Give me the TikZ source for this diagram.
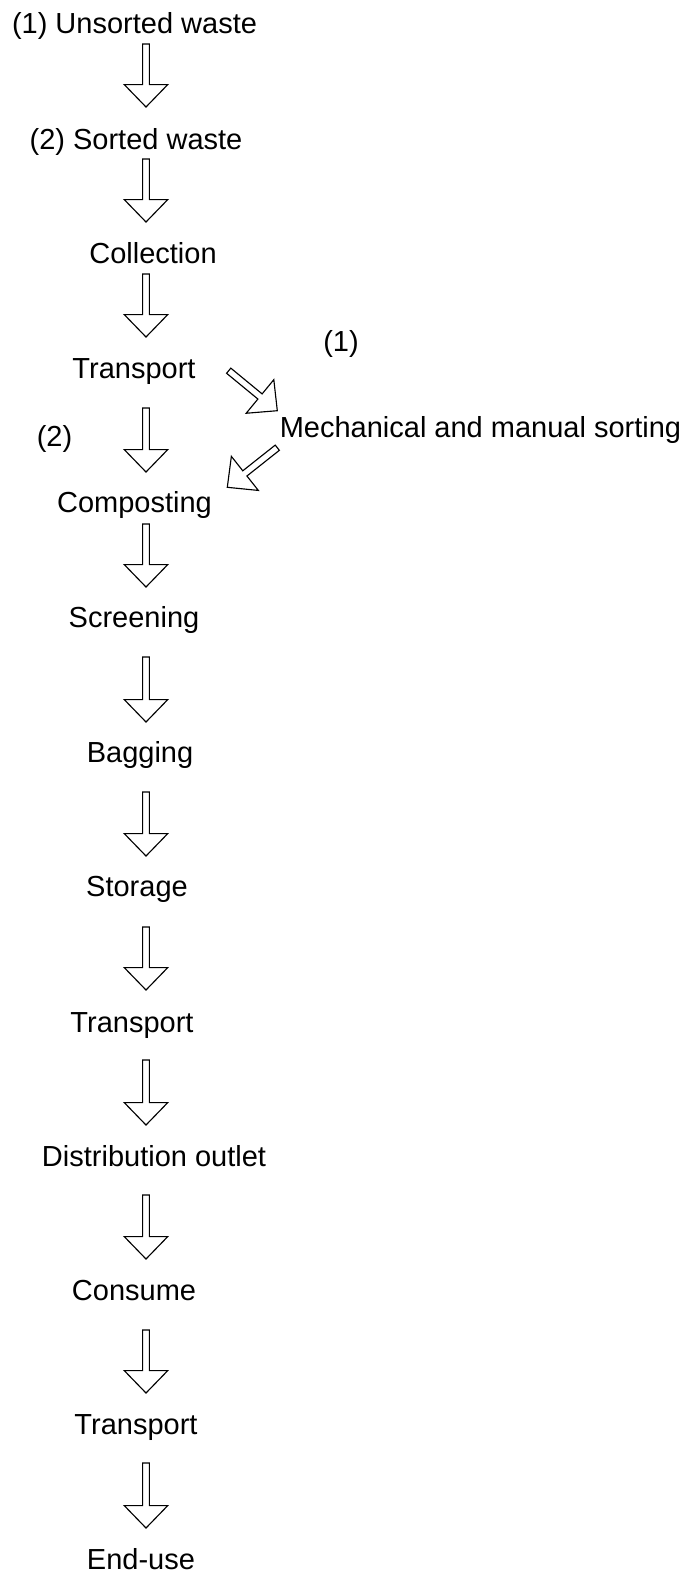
\documentclass[tikz,border=0pt]{standalone}
\usepackage{fontspec}
\setmainfont{Liberation Sans}
\usetikzlibrary{calc}
\tikzset{
  lbl/.style={anchor=base, inner sep=0pt, font=\fontsize{21.75}{26}\selectfont},
  hollow/.style={draw=black, line width=0.85pt, fill=white, line join=miter}
}
\newcommand\hollowarrow[2]{%
  \coordinate (hb) at ($(#2)!16.8pt!(#1)$);
  \draw[hollow] ($(#1)!2.5pt!90:(#2)$) -- ($(hb)!2.5pt!90:(#2)$) -- ($(hb)!16.3pt!90:(#2)$)
    -- (#2) -- ($(hb)!16.3pt!-90:(#2)$) -- ($(hb)!2.5pt!-90:(#2)$) -- ($(#1)!2.5pt!-90:(#2)$) -- cycle;
}
\begin{document}
\begin{tikzpicture}[x=0.75pt,y=-0.75pt]
\useasboundingbox (0,0) rectangle (692,1575);
% texts
\node[lbl] (n1) at (134.5,33.4) {(1) Unsorted waste};
\node[lbl] (n2) at (136,149.4) {(2) Sorted waste};
\node[lbl] (n3) at (153,263.4) {Collection};
\node[lbl] (n4) at (134,378.4) {Transport};
\node[lbl] (p1) at (341,351) {(1)};
\node[lbl] (mech) at (480.5,437) {Mechanical and manual sorting};
\node[lbl] (p2) at (54.5,446) {(2)};
\node[lbl] (comp) at (134.5,512) {Composting};
\node[lbl] (scr) at (134,627.5) {Screening};
\node[lbl] (bag) at (140,762) {Bagging};
\node[lbl] (sto) at (137,896.5) {Storage};
\node[lbl] (tr2) at (132,1032) {Transport};
\node[lbl] (dist) at (154,1166.5) {Distribution outlet};
\node[lbl] (cons) at (134,1300) {Consume};
\node[lbl] (tr3) at (136,1434.5) {Transport};
\node[lbl] (endu) at (141,1569) {End-use};
% arrow end points
\coordinate (a1s) at (146,44);   \coordinate (a1e) at (146,107);
\coordinate (a2s) at (146,159);  \coordinate (a2e) at (146,222);
\coordinate (a3s) at (146,274);  \coordinate (a3e) at (146,337);
\coordinate (a4s) at (146,408);  \coordinate (a4e) at (146,472);
\coordinate (a5s) at (146,524);  \coordinate (a5e) at (146,587);
\coordinate (a6s) at (146,657);  \coordinate (a6e) at (146,722);
\coordinate (a7s) at (146,792);  \coordinate (a7e) at (146,856);
\coordinate (a8s) at (146,927);  \coordinate (a8e) at (146,990);
\coordinate (a9s) at (146,1060); \coordinate (a9e) at (146,1125);
\coordinate (a10s) at (146,1195); \coordinate (a10e) at (146,1259);
\coordinate (a11s) at (146,1330); \coordinate (a11e) at (146,1393);
\coordinate (a12s) at (146,1463); \coordinate (a12e) at (146,1528);
\coordinate (d1s) at (228.7,370.7); \coordinate (d1e) at (277.3,410.7);
\coordinate (d2s) at (277.3,447.7); \coordinate (d2e) at (227.3,487.3);
% arrows
\hollowarrow{a1s}{a1e}
\hollowarrow{a2s}{a2e}
\hollowarrow{a3s}{a3e}
\hollowarrow{a4s}{a4e}
\hollowarrow{a5s}{a5e}
\hollowarrow{a6s}{a6e}
\hollowarrow{a7s}{a7e}
\hollowarrow{a8s}{a8e}
\hollowarrow{a9s}{a9e}
\hollowarrow{a10s}{a10e}
\hollowarrow{a11s}{a11e}
\hollowarrow{a12s}{a12e}
\hollowarrow{d1s}{d1e}
\hollowarrow{d2s}{d2e}
\end{tikzpicture}
\end{document}
